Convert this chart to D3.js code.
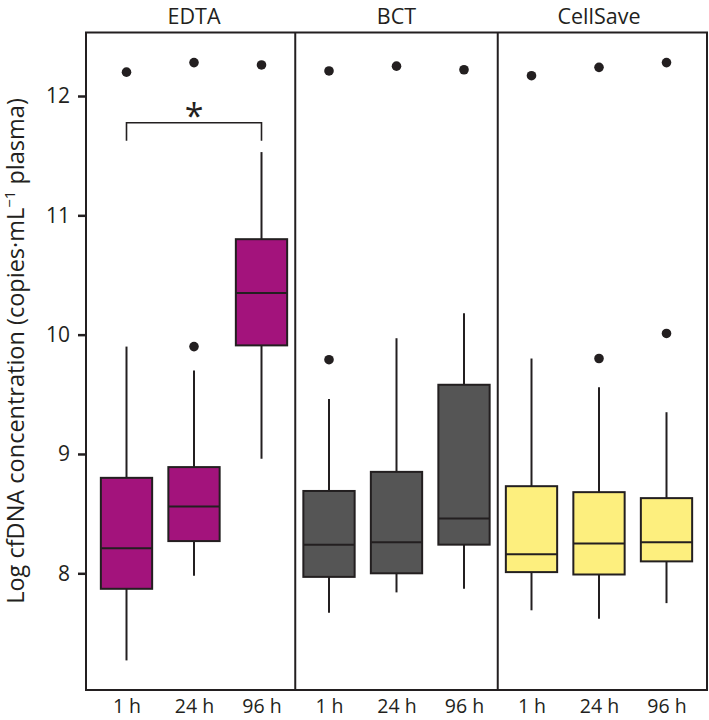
<!DOCTYPE html>
<html>
<head>
<meta charset="utf-8">
<script src="https://cdn.jsdelivr.net/npm/d3@7"></script>
<style>
  body { margin: 0; background: #fff; }
  svg text { font-family: "Open Sans", sans-serif; fill: #231f20; }
</style>
</head>
<body>
<div id="chart"></div>
<script>
// tubes and time points
const tubes = ["EDTA", "BCT", "CellSave"];
const times = ["1 h", "24 h", "96 h"];
const tubeColors = ["#a3137c", "#555555", "#fdef7e"];

// box stats, in order EDTA 1h,24h,96h, BCT ..., CellSave ...
const whiskerLow  = [7.27, 7.98, 8.96, 7.67, 7.84, 7.87, 7.69, 7.62, 7.75];
const q1          = [7.87, 8.27, 9.91, 7.97, 8.00, 8.24, 8.01, 7.99, 8.10];
const median      = [8.21, 8.56, 10.35, 8.24, 8.26, 8.46, 8.16, 8.25, 8.26];
const q3          = [8.80, 8.89, 10.80, 8.69, 8.85, 9.58, 8.73, 8.68, 8.63];
const whiskerHigh = [9.90, 9.70, 11.53, 9.46, 9.97, 10.18, 9.80, 9.56, 9.35];
const outliers    = [[12.20], [9.90, 12.28], [12.26], [9.79, 12.21], [12.25], [12.22], [12.17], [9.80, 12.24], [10.01, 12.28]];

const yTicks = [8, 9, 10, 11, 12];

var width = 709, height = 720;
var frameLeft = 86, frameRight = 707, frameTop = 32.5, frameBottom = 690;

var keys = [];
tubes.forEach((t) => times.forEach((h) => keys.push(t + "|" + h)));

var boxes = keys.map((k, i) => ({
  key: k,
  tube: k.split("|")[0],
  time: k.split("|")[1],
  lo: whiskerLow[i], q1: q1[i], med: median[i], q3: q3[i], hi: whiskerHigh[i],
  out: outliers[i]
}));

var x = d3.scalePoint().domain(keys).range([frameLeft, frameRight]).padding(0.6);
var step = x.step();
var boxW = step * 0.76;

var y = d3.scaleLinear().domain([8, 12]).range([573.3, 96]);
y.domain([y.invert(frameBottom), y.invert(frameTop)]).range([frameBottom, frameTop]);

var color = d3.scaleOrdinal().domain(tubes).range(tubeColors);

var svg = d3.select("#chart").append("svg")
  .attr("width", width)
  .attr("height", height);

var ink = "#231f20";

// boxes
var g = svg.append("g");
var bx = g.selectAll("g.box").data(boxes).enter().append("g").attr("class", "box");

bx.append("line")
  .attr("x1", (d) => x(d.key)).attr("x2", (d) => x(d.key))
  .attr("y1", (d) => y(d.hi)).attr("y2", (d) => y(d.q3))
  .attr("stroke", ink).attr("stroke-width", 2);
bx.append("line")
  .attr("x1", (d) => x(d.key)).attr("x2", (d) => x(d.key))
  .attr("y1", (d) => y(d.q1)).attr("y2", (d) => y(d.lo))
  .attr("stroke", ink).attr("stroke-width", 2);
bx.append("rect")
  .attr("x", (d) => x(d.key) - boxW / 2)
  .attr("width", boxW)
  .attr("y", (d) => y(d.q3))
  .attr("height", (d) => y(d.q1) - y(d.q3))
  .attr("fill", (d) => color(d.tube))
  .attr("stroke", ink).attr("stroke-width", 2);
bx.append("line")
  .attr("x1", (d) => x(d.key) - boxW / 2).attr("x2", (d) => x(d.key) + boxW / 2)
  .attr("y1", (d) => y(d.med)).attr("y2", (d) => y(d.med))
  .attr("stroke", ink).attr("stroke-width", 2);
bx.selectAll("circle").data((d) => d.out.map((v) => ({ key: d.key, v: v }))).enter()
  .append("circle")
  .attr("cx", (d) => x(d.key))
  .attr("cy", (d) => y(d.v))
  .attr("r", 4.8)
  .attr("fill", ink);

// frame and panel dividers
svg.append("rect")
  .attr("x", frameLeft).attr("y", frameTop)
  .attr("width", frameRight - frameLeft).attr("height", frameBottom - frameTop)
  .attr("fill", "none").attr("stroke", ink).attr("stroke-width", 2);

[3, 6].forEach((i) => {
  var xd = (x(keys[i - 1]) + x(keys[i])) / 2;
  svg.append("line")
    .attr("x1", xd).attr("x2", xd).attr("y1", frameTop).attr("y2", frameBottom)
    .attr("stroke", ink).attr("stroke-width", 2);
});

// panel titles
svg.selectAll("text.strip").data(tubes).enter().append("text")
  .attr("class", "strip")
  .attr("x", (t) => x(t + "|" + times[1]))
  .attr("y", 23.5)
  .attr("text-anchor", "middle")
  .attr("font-size", 21.5)
  .text((t) => t);

// y axis
var yAxis = svg.append("g")
  .attr("transform", `translate(${frameLeft},0)`)
  .call(d3.axisLeft(y).tickValues(yTicks).tickSize(8).tickPadding(8).tickFormat(d3.format("d")));
yAxis.select(".domain").remove();
yAxis.selectAll(".tick line").attr("stroke", ink).attr("stroke-width", 2.5);
yAxis.selectAll(".tick text").attr("font-size", 21).attr("font-family", "Open Sans").attr("fill", ink);

// x axis labels
var xAxis = svg.append("g")
  .attr("transform", `translate(0,${frameBottom})`)
  .call(d3.axisBottom(x).tickSize(0).tickPadding(9).tickFormat((k) => k.split("|")[1]));
xAxis.select(".domain").remove();
xAxis.selectAll(".tick text").attr("font-size", 19.5).attr("font-family", "Open Sans").attr("fill", ink);

// y label
var yl = svg.append("text")
  .attr("transform", `translate(24,351) rotate(-90)`)
  .attr("text-anchor", "middle")
  .attr("font-size", 23.5);
yl.append("tspan").text("Log cfDNA concentration (copies·mL");
yl.append("tspan").text("−1").attr("font-size", 15).attr("dy", -9);
yl.append("tspan").text(" plasma)").attr("dy", 9);

// significance bracket EDTA 1 h vs 96 h
var sig = svg.append("g");
var bY = y(11.776), bLow = y(11.625);
sig.append("path")
  .attr("d", `M${x(keys[0])},${bLow}V${bY}H${x(keys[2])}V${bLow}`)
  .attr("fill", "none").attr("stroke", ink).attr("stroke-width", 1.6);
sig.append("text")
  .attr("x", x(keys[1]))
  .attr("y", bY + 5)
  .attr("text-anchor", "middle")
  .attr("font-size", 34)
  .text("*");
</script>
</body>
</html>
